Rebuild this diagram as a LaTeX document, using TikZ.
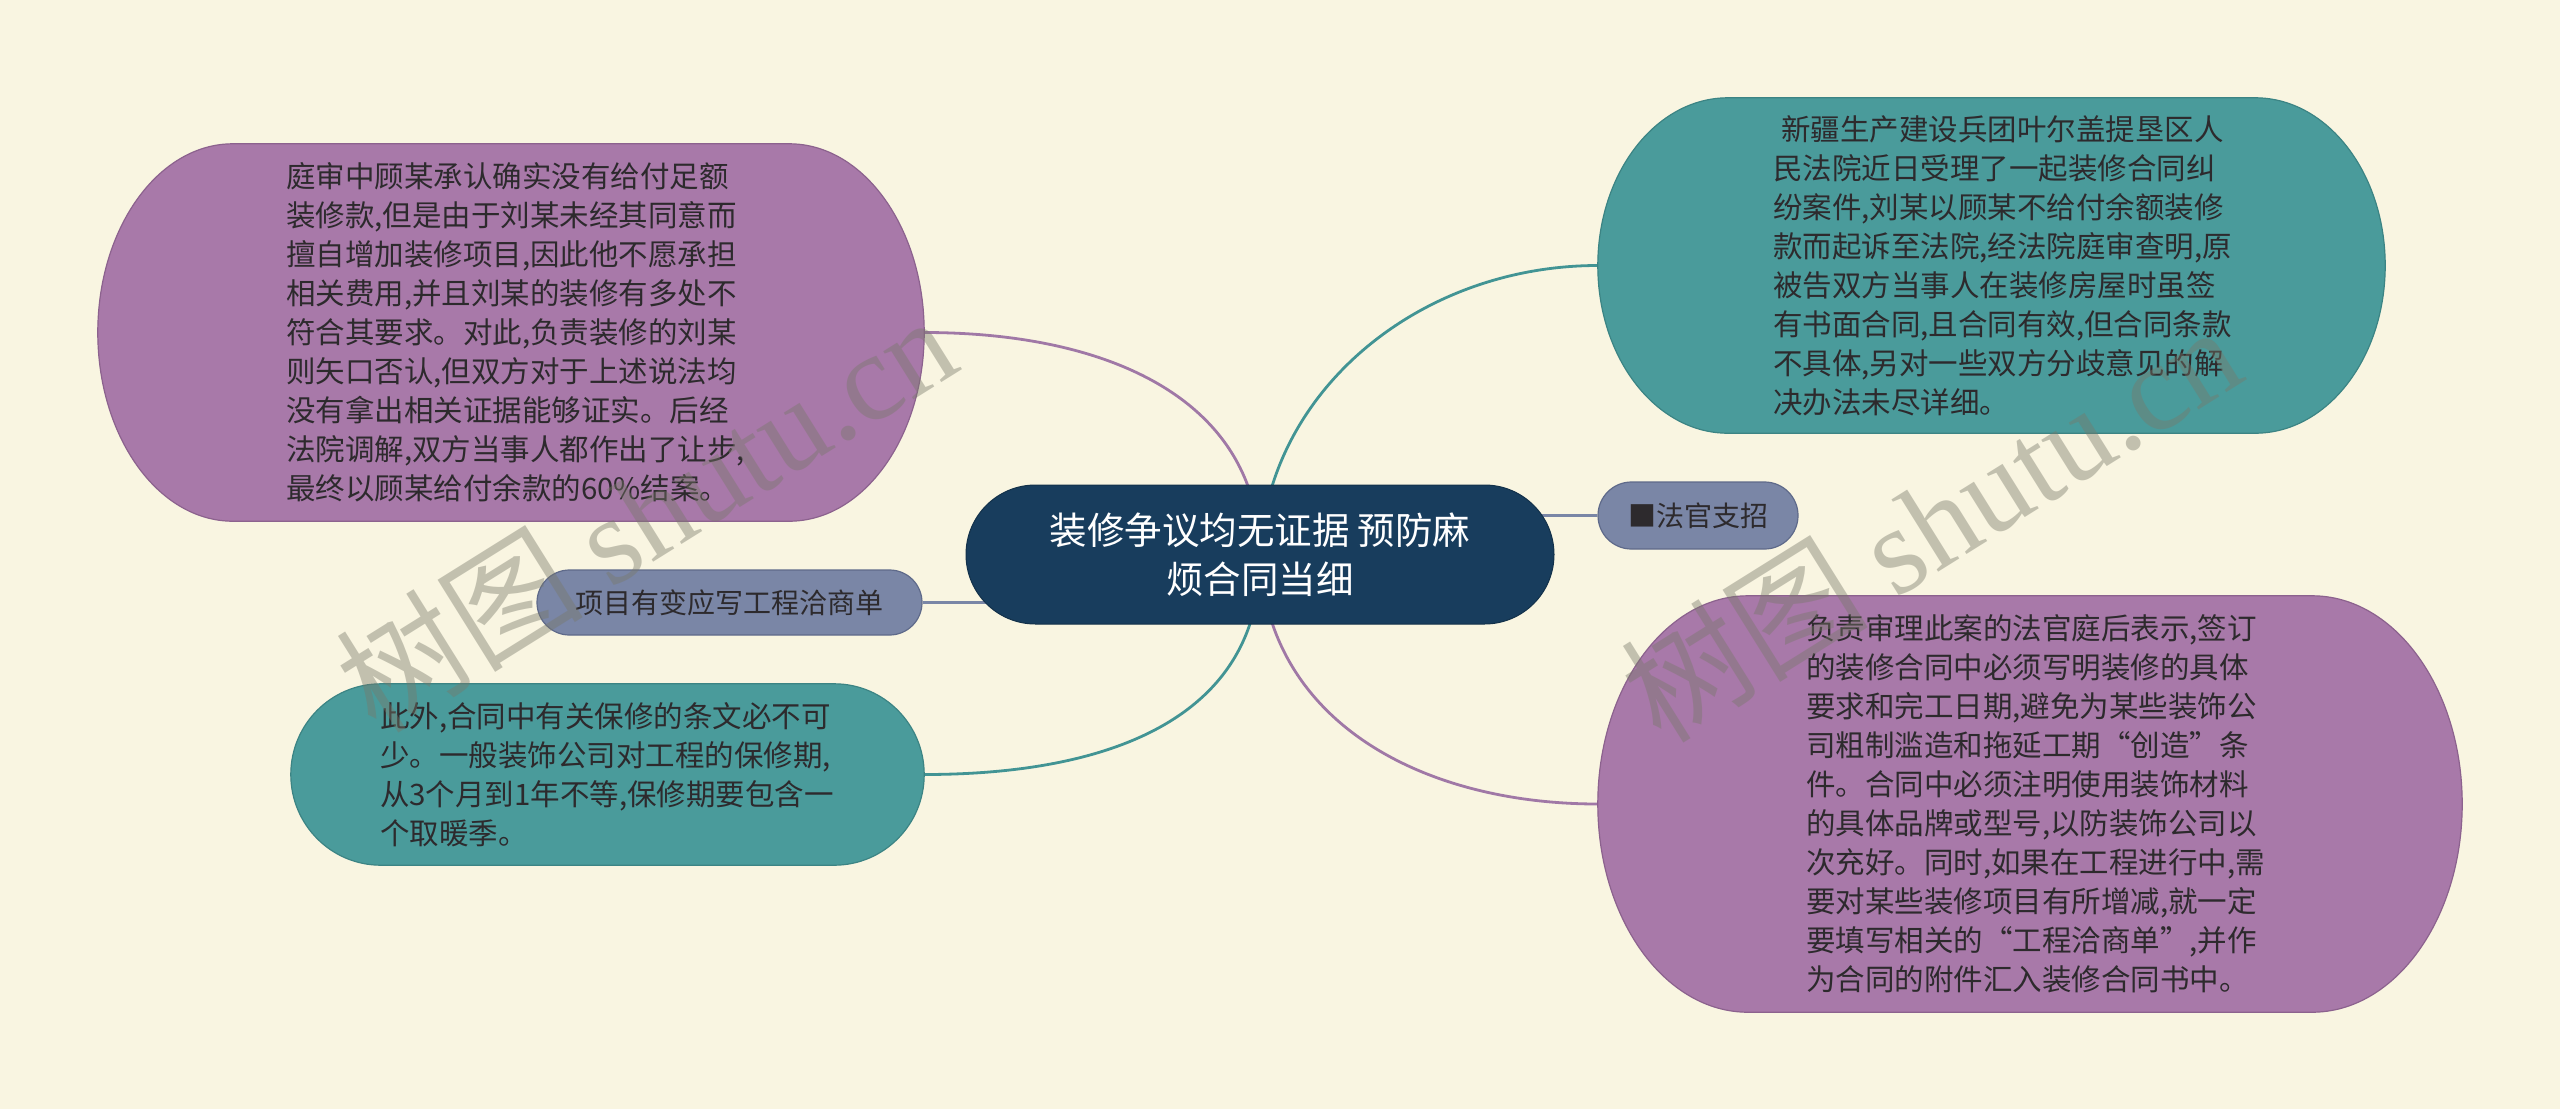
\documentclass[tikz,border=0pt]{standalone}
\usepackage{fontspec}
\setmainfont{Noto Sans CJK SC}
\newfontfamily\wmserif{Liberation Serif}
\usetikzlibrary{shapes.misc,backgrounds,calc}
\definecolor{bgc}{RGB}{249,245,225}
\definecolor{purp}{RGB}{168,121,169}
\definecolor{purpedge}{RGB}{140,98,142}
\definecolor{purpline}{RGB}{160,120,166}
\definecolor{teal2}{RGB}{74,155,155}
\definecolor{tealedge}{RGB}{60,132,132}
\definecolor{tealline}{RGB}{66,148,148}
\definecolor{slate}{RGB}{122,134,166}
\definecolor{slateedge}{RGB}{95,106,138}
\definecolor{navy}{RGB}{24,61,93}
\definecolor{txtc}{RGB}{45,42,45}
\definecolor{wmc}{RGB}{120,120,105}
\newcommand\pillpath[3]{%
  \path[#3] let \p1=(#1.north west), \p2=(#1.south east), \n1={(\y1-\y2)/2} in
    (\x1+#2,\y1) -- (\x2-#2,\y1)
    arc[start angle=90,end angle=-90,x radius=#2,y radius=\n1]
    -- (\x1+#2,\y2)
    arc[start angle=270,end angle=90,x radius=#2,y radius=\n1] -- cycle;}
\tikzset{
  conn/.style={line width=2.8pt},
  bigtext/.style={rectangle, inner sep=0pt, align=left, text=txtc,
    font=\fontsize{29.5pt}{39pt}\selectfont},
  smallpill/.style={rounded rectangle, inner sep=0pt, fill=slate, draw=slateedge,
    line width=1.2pt, text=txtc, font=\fontsize{28pt}{34pt}\selectfont},
  wmark/.style={rotate=32, text=wmc, text opacity=0.42, inner sep=0pt,
    font=\fontsize{124pt}{126pt}\selectfont},
}
\begin{document}
\begin{tikzpicture}[x=1pt,y=-1pt]
\useasboundingbox (0,0) rectangle (2560,1109);

% central topic
\node[rounded rectangle, inner sep=0pt, minimum width=588pt, minimum height=139pt,
  fill=navy, draw=navy!80!black, line width=1pt, text=white, align=center,
  font=\fontsize{37.5pt}{49pt}\selectfont] (c) at (1260,554.5)
  {装修争议均无证据 预防麻\\烦合同当细};

% small nodes
\node[smallpill, minimum width=200pt, minimum height=67pt] (fg) at (1698,515.5) {■法官支招};
\node[smallpill, minimum width=385pt, minimum height=65pt] (pm) at (729.5,602.5) {项目有变应写工程洽商单};

% big text nodes
\node[bigtext, minimum width=826pt, minimum height=377pt, text width=450pt] (tl) at (511,332.5)
{庭审中顾某承认确实没有给付足额\\
装修款,但是由于刘某未经其同意而\\
擅自增加装修项目,因此他不愿承担\\
相关费用,并且刘某的装修有多处不\\
符合其要求。对此,负责装修的刘某\\
则矢口否认,但双方对于上述说法均\\
没有拿出相关证据能够证实。后经\\
法院调解,双方当事人都作出了让步,\\
最终以顾某给付余款的60\%结案。};

\node[bigtext, minimum width=787pt, minimum height=335pt, text width=437pt] (tr) at (1991.5,265.5)
{\hspace*{8pt}新疆生产建设兵团叶尔盖提垦区人\\
民法院近日受理了一起装修合同纠\\
纷案件,刘某以顾某不给付余额装修\\
款而起诉至法院,经法院庭审查明,原\\
被告双方当事人在装修房屋时虽签\\
有书面合同,且合同有效,但合同条款\\
不具体,另对一些双方分歧意见的解\\
决办法未尽详细。};

\node[bigtext, minimum width=864pt, minimum height=416pt, text width=448pt] (br) at (2030,804)
{负责审理此案的法官庭后表示,签订\\
的装修合同中必须写明装修的具体\\
要求和完工日期,避免为某些装饰公\\
司粗制滥造和拖延工期“创造”条\\
件。合同中必须注明使用装饰材料\\
的具体品牌或型号,以防装饰公司以\\
次充好。同时,如果在工程进行中,需\\
要对某些装修项目有所增减,就一定\\
要填写相关的“工程洽商单”,并作\\
为合同的附件汇入装修合同书中。};

\node[bigtext, minimum width=633pt, minimum height=181pt, text width=455pt] (bl) at (607.5,774.5)
{此外,合同中有关保修的条文必不可\\
少。一般装饰公司对工程的保修期,\\
从3个月到1年不等,保修期要包含一\\
个取暖季。};

\begin{pgfonlayer}{background}
  \fill[bgc] (0,0) rectangle (2560,1109);
  % connectors
  \draw[conn, purpline] (c.center) .. controls (1258,400) and (1110,332.5) .. (tl.east);
  \draw[conn, tealline] (c.center) .. controls (1268,390) and (1420,265.5) .. (tr.west);
  \draw[conn, tealline] (c.center) .. controls (1262,712) and (1120,774.5) .. (bl.east);
  \draw[conn, purpline] (c.center) .. controls (1266,720) and (1420,804) .. (br.west);
  \draw[conn, slate] (fg.west) -- (fg.west -| c.center);
  \draw[conn, slate] (pm.east) -- (pm.east -| c.center);
  % bubbles
  \pillpath{tl}{135pt}{fill=purp, draw=purpedge, line width=1.2pt}
  \pillpath{tr}{130pt}{fill=teal2, draw=tealedge, line width=1.2pt}
  \pillpath{br}{150pt}{fill=purp, draw=purpedge, line width=1.2pt}
  \pillpath{bl}{90pt}{fill=teal2, draw=tealedge, line width=1.2pt}
\end{pgfonlayer}

% watermarks
\node[wmark] (wm1) at (645,512) {树图 {\wmserif shutu.cn}};
\node[wmark] (wm2) at (1930,522) {树图 {\wmserif shutu.cn}};
\end{tikzpicture}
\end{document}
